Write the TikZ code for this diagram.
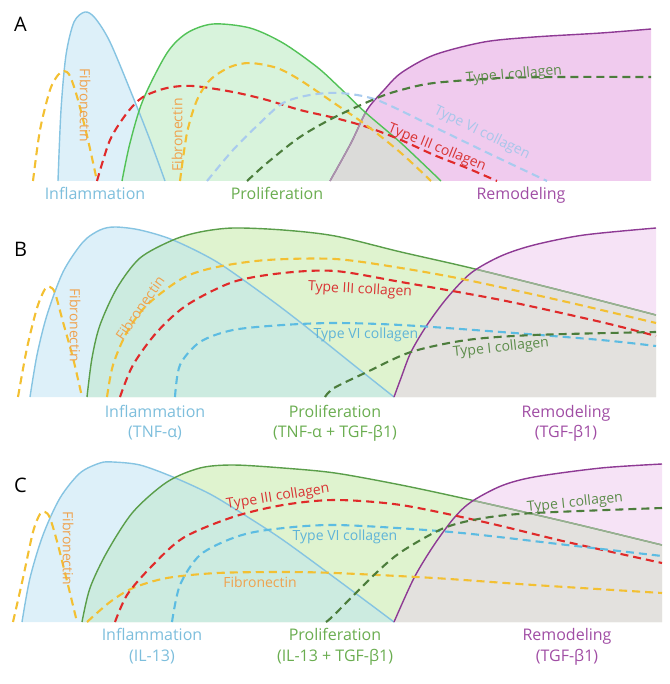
\documentclass[tikz,border=0pt]{standalone}
\usepackage{fontspec}
\setmainfont{Open Sans}
\usepackage{xcolor}
\usepackage{tikz}

\definecolor{infl}{HTML}{86C4E2}
\definecolor{inflfill}{HTML}{DDF0F9}
\definecolor{prolA}{HTML}{52C257}
\definecolor{prolfillA}{HTML}{D8F3DC}
\definecolor{prol}{HTML}{5A9E4A}
\definecolor{prolfill}{HTML}{DFF3CF}
\definecolor{tealA}{HTML}{D3EEE5}
\definecolor{teal}{HTML}{CCEBE0}
\definecolor{remod}{HTML}{8E3A94}
\definecolor{remodfillA}{HTML}{F0CBEE}
\definecolor{remodfill}{HTML}{F6E3F6}
\definecolor{greyA}{HTML}{DBDBD9}
\definecolor{grey}{HTML}{E3E1DE}
\definecolor{fibro}{HTML}{F3C032}
\definecolor{colthree}{HTML}{E02A2A}
\definecolor{colsixA}{HTML}{A9CBEE}
\definecolor{colsix}{HTML}{5CBCE2}
\definecolor{colone}{HTML}{4C7D3C}
\definecolor{fibroT}{HTML}{EFA24E}
\definecolor{inflT}{HTML}{7DBEDC}
\definecolor{prolT}{HTML}{6AAD50}
\definecolor{remodT}{HTML}{A04DA4}
\definecolor{colthreeT}{HTML}{D93434}
\definecolor{colsixAT}{HTML}{A8C6EA}
\definecolor{colsixT}{HTML}{5FB4D8}
\definecolor{coloneT}{HTML}{5C8C4A}

\begin{document}
\begin{tikzpicture}[x=1pt,y=1pt]
\tikzstyle{every node}+=[inner sep=0pt]
\tikzstyle{phase}=[anchor=base,font=\fontsize{16}{20}\selectfont]
\tikzstyle{lbl}=[font=\fontsize{14}{17}\selectfont]
\tikzstyle{panel}=[anchor=base west,font=\fontsize{20}{24}\selectfont]
\tikzstyle{outline}=[line width=1.4pt]
\tikzstyle{dsh}=[line width=2.1pt,dash pattern=on 8pt off 5pt]
\useasboundingbox (0,0) rectangle (669,-684);

% A
\def\blueA{plot[smooth] coordinates {(58,-181) (61,-110) (66,-55) (74,-22) (85,-12) (95,-18) (110,-42) (133,-97) (150,-140) (165,-181)}}
\def\greenA{plot[smooth] coordinates {(122,-181) (130,-143) (143,-100) (167,-53) (187,-33) (213,-24) (250,-28) (283,-43) (317,-67) (340,-88) (366,-113) (401,-143) (441,-181)}}
\def\purpleA{plot[smooth] coordinates {(330,-181) (351,-143) (367,-110) (384,-90) (401,-73) (434,-55) (484,-42) (534,-37) (601,-33) (651,-29)}}
\fill[inflfill] \blueA -- cycle;
\fill[remodfillA] \purpleA -- (651,-181) -- cycle;
\fill[prolfillA] \greenA -- cycle;
\begin{scope}
\clip \blueA -- cycle;
\fill[tealA] \greenA -- cycle;
\end{scope}
\begin{scope}
\clip \greenA -- cycle;
\fill[greyA] \purpleA -- (651,-181) -- cycle;
\end{scope}
\draw[outline,infl] \blueA;
\draw[outline,remod] \purpleA;
\begin{scope}
\clip \greenA -- cycle;
\draw[outline,remod!35!gray!70] \purpleA;
\end{scope}
\draw[outline,prolA] \greenA;
\draw[dsh,fibro] plot[smooth] coordinates {(33,-181) (40,-130) (50,-90) (58,-75) (64,-71) (70,-76) (78,-100) (88,-140) (97,-181)};
\draw[dsh,colthree] plot[smooth] coordinates {(97,-181) (110,-140) (127,-113) (143,-97) (167,-88) (193,-86) (233,-92) (267,-100) (300,-110) (335,-118) (367,-127) (401,-140) (434,-155) (467,-168) (497,-181)};
\draw[dsh,fibro] plot[smooth] coordinates {(180,-181) (187,-133) (197,-100) (210,-80) (230,-67) (250,-63) (277,-68) (300,-80) (334,-103) (366,-125) (401,-153) (431,-181)};
\draw[dsh,colsixA] plot[smooth] coordinates {(207,-181) (233,-150) (260,-123) (283,-103) (310,-95) (340,-93) (377,-100) (434,-127) (490,-154) (547,-181)};
\draw[dsh,colone] plot[smooth] coordinates {(247,-181) (267,-163) (300,-137) (335,-117) (377,-98) (401,-90) (434,-83) (501,-78) (567,-77) (651,-77)};
\node[lbl,text=fibroT,rotate=-90] (fibA1) at (85,-105) {Fibronectin};
\node[lbl,text=fibroT,rotate=90] (fibA2) at (177,-135) {Fibronectin};
\node[lbl,text=colthreeT,rotate=-22] (col3A) at (437,-148) {Type III collagen};
\node[lbl,text=colsixAT,rotate=-26] (col6A) at (482,-133) {Type VI collagen};
\node[lbl,text=coloneT,rotate=5] (col1A) at (514,-75) {Type I collagen};
\node[phase,text=inflT] (inflA) at (95,-200) {Inflammation};
\node[phase,text=prolT] (prolA) at (277,-200) {Proliferation};
\node[phase,text=remodT] (remodA) at (521,-200) {Remodeling};
\node[panel] (panelA) at (14,-32) {A};

% B
\def\blueB{plot[smooth] coordinates {(30,-397) (37,-355) (47,-315) (63,-272) (83,-242) (100,-230) (115,-227) (140,-230) (173,-240) (217,-262) (267,-297) (300,-322) (335,-350) (365,-374) (394,-397)}}
\def\greenB{plot[smooth] coordinates {(87,-397) (92,-358) (100,-325) (117,-288) (140,-258) (173,-240) (200,-232) (233,-228) (283,-230) (335,-236) (401,-252) (471,-268) (567,-292) (656,-315)}}
\def\purpleB{plot[smooth] coordinates {(394,-397) (401,-378) (411,-352) (427,-325) (447,-298) (471,-273) (501,-256) (534,-245) (584,-235) (656,-228)}}
\fill[inflfill] \blueB -- cycle;
\fill[prolfill] \greenB -- (656,-397) -- cycle;
\begin{scope}
\clip \blueB -- cycle;
\fill[teal] \greenB -- (656,-397) -- cycle;
\end{scope}
\fill[remodfill] \purpleB -- (656,-397) -- cycle;
\begin{scope}
\clip \greenB -- (656,-397) -- cycle;
\fill[grey] \purpleB -- (656,-397) -- cycle;
\end{scope}
\draw[outline,infl] \blueB;
\draw[outline,prol] \greenB;
\begin{scope}
\clip \purpleB -- (656,-397) -- cycle;
\draw[outline,prol!45!gray!70] \greenB;
\end{scope}
\draw[outline,remod] \purpleB;
\draw[dsh,fibro] plot[smooth] coordinates {(18,-397) (27,-348) (37,-308) (45,-289) (50,-287) (55,-293) (63,-322) (73,-358) (82,-397)};
\draw[dsh,fibro] plot[smooth] coordinates {(107,-397) (113,-365) (127,-332) (147,-305) (183,-278) (217,-267) (267,-260) (335,-259) (401,-268) (467,-280) (567,-302) (656,-323)};
\draw[dsh,colthree] plot[smooth] coordinates {(120,-397) (133,-365) (157,-332) (187,-305) (233,-282) (283,-273) (335,-271) (401,-282) (501,-300) (601,-322) (656,-336)};
\draw[dsh,colsix] plot[smooth] coordinates {(175,-397) (180,-365) (200,-342) (233,-330) (283,-325) (335,-323) (401,-325) (501,-332) (601,-340) (656,-346)};
\draw[dsh,colone] plot[smooth] coordinates {(325,-397) (334,-388) (367,-372) (411,-352) (467,-340) (534,-335) (656,-332)};
\node[lbl,text=fibroT,rotate=-90] (fibB1) at (75,-325) {Fibronectin};
\node[lbl,text=fibroT,rotate=55] (fibB2) at (140,-308) {Fibronectin};
\node[lbl,text=colthreeT,rotate=-3] (col3B) at (360,-290) {Type III collagen};
\node[lbl,text=colsixT] (col6B) at (366,-335) {Type VI collagen};
\node[lbl,text=coloneT,rotate=6] (col1B) at (501,-348) {Type I collagen};
\node[phase,text=inflT] (inflB) at (155,-417) {Inflammation};
\node[phase,text=inflT] (inflBcyt) at (155,-437) {(TNF-α)};
\node[phase,text=prolT] (prolB) at (335,-417) {Proliferation};
\node[phase,text=prolT] (prolBcyt) at (335,-437) {(TNF-α + TGF-β1)};
\node[phase,text=remodT] (remodB) at (566,-417) {Remodeling};
\node[phase,text=remodT] (remodBcyt) at (566,-437) {(TGF-β1)};
\node[panel] (panelB) at (14,-257) {B};

% C
\def\blueC{plot[smooth] coordinates {(22,-622) (30,-578) (43,-535) (60,-498) (80,-473) (100,-463) (113,-462) (140,-465) (173,-477) (210,-494) (243,-514) (283,-540) (335,-578) (394,-622)}}
\def\greenC{plot[smooth] coordinates {(82,-622) (90,-588) (107,-552) (133,-512) (167,-482) (200,-468) (233,-465) (283,-468) (335,-473) (401,-485) (471,-500) (567,-522) (662,-545)}}
\def\purpleC{plot[smooth] coordinates {(394,-622) (414,-578) (434,-545) (454,-518) (471,-502) (501,-486) (534,-477) (601,-468) (662,-464)}}
\fill[inflfill] \blueC -- cycle;
\fill[prolfill] \greenC -- (662,-622) -- cycle;
\begin{scope}
\clip \blueC -- cycle;
\fill[teal] \greenC -- (662,-622) -- cycle;
\end{scope}
\fill[remodfill] \purpleC -- (662,-622) -- cycle;
\begin{scope}
\clip \greenC -- (662,-622) -- cycle;
\fill[grey] \purpleC -- (662,-622) -- cycle;
\end{scope}
\draw[outline,infl] \blueC;
\draw[outline,prol] \greenC;
\begin{scope}
\clip \purpleC -- (662,-622) -- cycle;
\draw[outline,prol!45!gray!70] \greenC;
\end{scope}
\draw[outline,remod] \purpleC;
\draw[dsh,fibro] plot[smooth] coordinates {(13,-622) (23,-578) (33,-532) (40,-514) (45,-512) (50,-518) (58,-545) (68,-585) (77,-622)};
\draw[dsh,fibro] plot[smooth] coordinates {(87,-622) (110,-602) (133,-588) (167,-578) (217,-573) (283,-572) (335,-573) (434,-578) (534,-585) (662,-593)};
\draw[dsh,colthree] plot[smooth] coordinates {(115,-622) (127,-595) (150,-568) (183,-538) (233,-517) (283,-505) (335,-500) (401,-505) (484,-522) (567,-542) (662,-563)};
\draw[dsh,colsix] plot[smooth] coordinates {(172,-622) (180,-585) (200,-555) (233,-538) (267,-530) (335,-525) (451,-532) (567,-545) (662,-556)};
\draw[dsh,colone] plot[smooth] coordinates {(326,-622) (334,-615) (374,-575) (401,-552) (444,-528) (484,-518) (534,-513) (662,-508)};
\node[lbl,text=fibroT,rotate=-90] (fibC1) at (68,-548) {Fibronectin};
\node[lbl,text=fibroT] (fibC2) at (260,-582) {Fibronectin};
\node[lbl,text=colthreeT,rotate=9] (col3C) at (278,-497) {Type III collagen};
\node[lbl,text=colsixT] (col6C) at (345,-537) {Type VI collagen};
\node[lbl,text=coloneT,rotate=6] (col1C) at (575,-503) {Type I collagen};
\node[phase,text=inflT] (inflC) at (152,-640) {Inflammation};
\node[phase,text=inflT] (inflCcyt) at (152,-661) {(IL-13)};
\node[phase,text=prolT] (prolC) at (335,-640) {Proliferation};
\node[phase,text=prolT] (prolCcyt) at (335,-661) {(IL-13 + TGF-β1)};
\node[phase,text=remodT] (remodC) at (567,-640) {Remodeling};
\node[phase,text=remodT] (remodCcyt) at (567,-661) {(TGF-β1)};
\node[panel] (panelC) at (14,-492) {C};
\end{tikzpicture}
\end{document}
